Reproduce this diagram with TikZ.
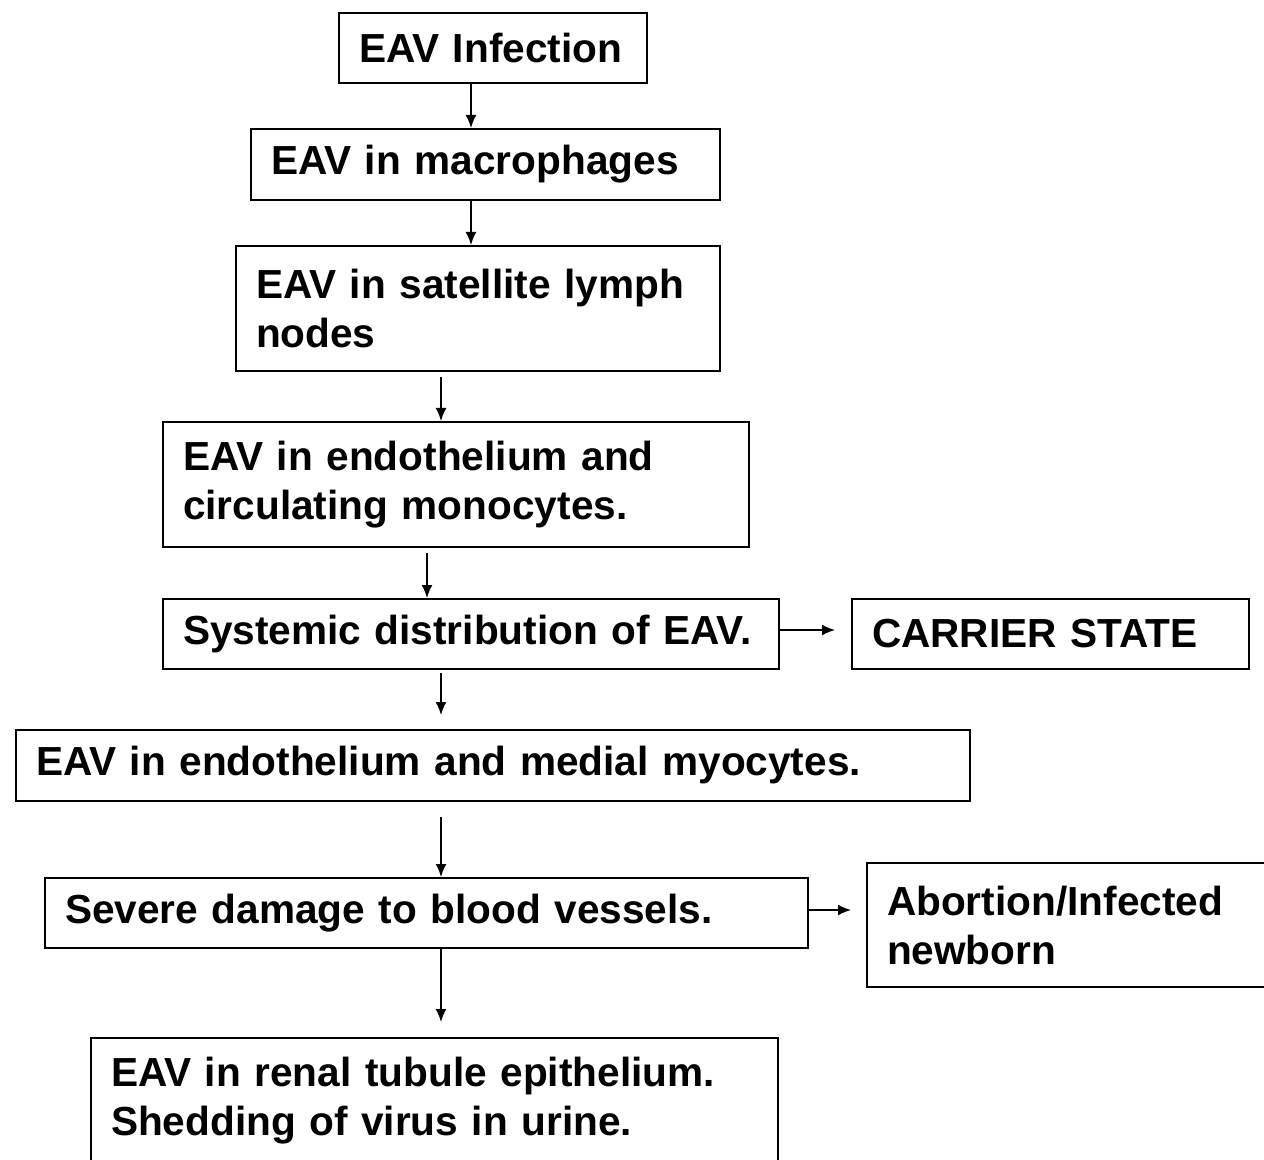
\documentclass[tikz,border=0pt]{standalone}
\usepackage{fontspec}
\setmainfont{Liberation Sans}
\usetikzlibrary{arrows.meta}
\tikzset{
  box/.style={draw=black, line width=1pt, anchor=north west, inner xsep=10pt, inner ysep=0pt,
    align=left, font=\fontsize{20.3}{24.5}\selectfont\bfseries, fill=white},
  arr/.style={draw=black, line width=0.9pt, -{Latex[length=6.5pt,width=5.5pt]}}
}
\begin{document}
\begin{tikzpicture}[x=0.5pt,y=-0.5pt]
\useasboundingbox[fill=white] (0,0) rectangle (1264,1160);
\node[box, text width=268*0.5pt, minimum height=70*0.5pt] (n1) at (338,12) {EAV Infection};
\node[box, text width=429*0.5pt, minimum height=71*0.5pt] (n2) at (250,128) {EAV in macrophages};
\node[box, text width=444*0.5pt, minimum height=125*0.5pt] (n3) at (235,245) {EAV in satellite lymph\\nodes};
\node[box, text width=546*0.5pt, minimum height=125*0.5pt] (n4) at (162,421) {EAV in endothelium and\\circulating monocytes.};
\node[box, text width=576*0.5pt, minimum height=70*0.5pt] (n5) at (162,598) {Systemic distribution of EAV.};
\node[box, text width=357*0.5pt, minimum height=70*0.5pt] (n6) at (851,598) {CARRIER STATE};
\node[box, text width=914*0.5pt, minimum height=71*0.5pt] (n7) at (15,729) {EAV in endothelium and medial myocytes.};
\node[box, text width=723*0.5pt, minimum height=70*0.5pt] (n8) at (44,877) {Severe damage to blood vessels.};
\node[box, text width=362*0.5pt, minimum height=124*0.5pt] (n9) at (866,862) {Abortion/Infected\\newborn};
\node[box, text width=647*0.5pt, minimum height=126*0.5pt] (n10) at (90,1037) {EAV in renal tubule epithelium.\\Shedding of virus in urine.};
% vertical connectors
\draw[arr] ([shift={(133,0)}]n1.south west) -- ([shift={(221,0)}]n2.north west);
\draw[arr] ([shift={(221,0)}]n2.south west) -- ([shift={(236,0)}]n3.north west);
\draw[arr] ([shift={(206,5)}]n3.south west) -- ([shift={(279,0)}]n4.north west);
\draw[arr] ([shift={(265,5)}]n4.south west) -- ([shift={(265,0)}]n5.north west);
\draw[arr] ([shift={(279,3)}]n5.south west) -- ([shift={(426,-14)}]n7.north west);
\draw[arr] ([shift={(426,15)}]n7.south west) -- ([shift={(397,0)}]n8.north west);
\draw[arr] ([shift={(397,0)}]n8.south west) -- ([shift={(351,-15)}]n10.north west);
% horizontal connectors
\draw[arr] ([shift={(0,-4)}]n5.east) -- ([shift={(-16,-4)}]n5.east -| n6.west);
\draw[arr] ([shift={(0,-3)}]n8.east) -- ([shift={(-15,-3)}]n8.east -| n9.west);
\end{tikzpicture}
\end{document}
